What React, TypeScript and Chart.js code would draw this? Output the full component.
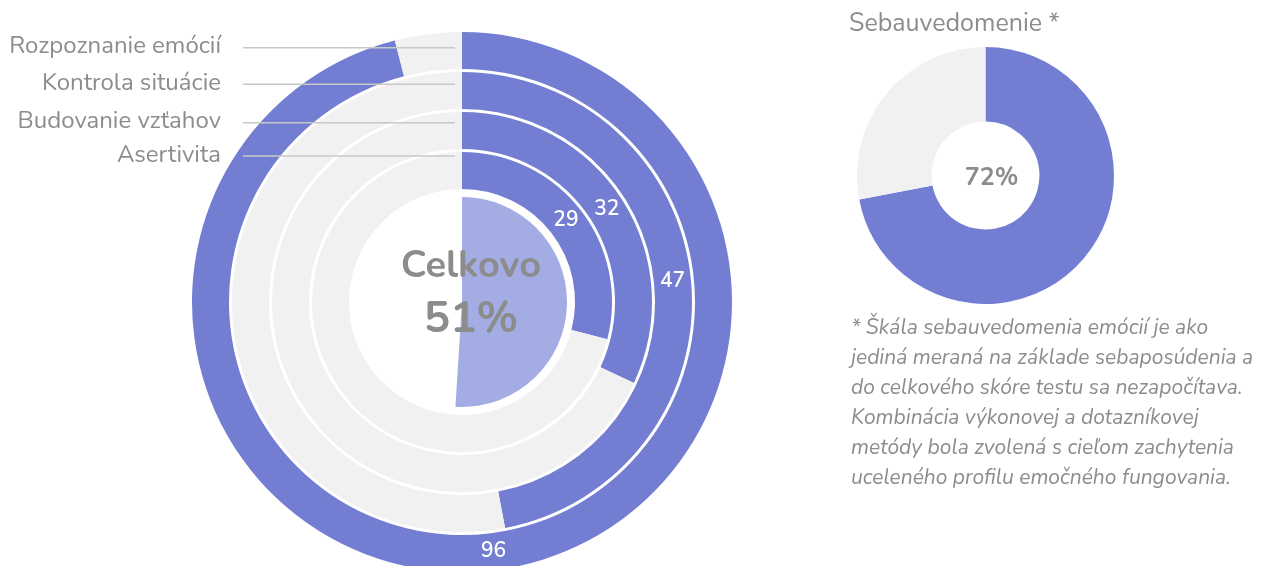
import React, { useEffect, useRef } from 'react';
import { Chart, registerables } from 'chart.js';

Chart.register(...registerables);

// ---- data ----
const ringLabels = ['Rozpoznanie emócií', 'Kontrola situácie', 'Budovanie vzťahov', 'Asertivita'];
const ringValues = [96, 47, 32, 29];
const overallLabel = 'Celkovo';
const overallValue = 51;
const selfTitle = 'Sebauvedomenie *';
const selfValue = 72;
const footnoteLines = [
  '* Škála sebauvedomenia emócií je ako',
  'jediná meraná na základe sebaposúdenia a',
  'do celkového skóre testu sa nezapočítava.',
  'Kombinácia výkonovej a dotazníkovej',
  'metódy bola zvolená s cieľom zachytenia',
  'uceleného profilu emočného fungovania.',
];

// ---- styles ----
const BLUE = '#737ed3';
const LIGHT = '#a4ace4';
const GREY = '#f1f1f1';
const TEXT = '#8c8c8c';
const FONT = 'Nunito, Lato, sans-serif';
const labelLineY = [47.7, 84.3, 122.7, 156];

function LeftChart() {
  const ref = useRef<HTMLCanvasElement | null>(null);
  useEffect(() => {
    if (!ref.current) return;
    const datasets: any[] = [];
    ringValues.forEach((v, i) => {
      datasets.push({
        data: [v, 100 - v],
        backgroundColor: [BLUE, GREY],
        borderWidth: 0,
        weight: 37,
        _ring: true,
      });
      datasets.push({
        data: [1],
        backgroundColor: ['rgba(0,0,0,0)'],
        borderWidth: 0,
        weight: i < ringValues.length - 1 ? 3 : 8,
      });
    });
    datasets.push({
      data: [overallValue, 100 - overallValue],
      backgroundColor: [LIGHT, 'rgba(0,0,0,0)'],
      borderWidth: 0,
      weight: 105,
    });

    const textPlugin = {
      id: 'leftText',
      afterDraw(chart: any) {
        const ctx = chart.ctx;
        ctx.save();
        // ring value labels
        ctx.fillStyle = '#ffffff';
        ctx.font = `600 21px ${FONT}`;
        ctx.textAlign = 'center';
        ctx.textBaseline = 'middle';
        chart.data.datasets.forEach((ds: any, di: number) => {
          if (!ds._ring) return;
          const arc = chart.getDatasetMeta(di).data[0];
          const p = arc.tooltipPosition();
          ctx.fillText(String(ds.data[0]), p.x, p.y);
        });
        // center texts
        const cx = (chart.chartArea.left + chart.chartArea.right) / 2;
        const cy = (chart.chartArea.top + chart.chartArea.bottom) / 2;
        ctx.fillStyle = TEXT;
        ctx.textBaseline = 'alphabetic';
        ctx.font = `bold 38px ${FONT}`;
        ctx.fillText(overallLabel, cx + 9, cy - 25.5);
        ctx.font = `bold 44px ${FONT}`;
        ctx.fillText(overallValue + '%', cx + 9, cy + 30);
        // left labels with leader lines
        ctx.font = `24px ${FONT}`;
        ctx.textAlign = 'right';
        ctx.textBaseline = 'middle';
        ctx.strokeStyle = '#c8c8c8';
        ctx.lineWidth = 1.5;
        ringLabels.forEach((lab, i) => {
          const y = labelLineY[i];
          ctx.fillStyle = TEXT;
          ctx.fillText(lab, 221, y);
          ctx.beginPath();
          ctx.moveTo(243, y);
          ctx.lineTo(cx - 7, y);
          ctx.stroke();
        });
        ctx.restore();
      },
    };

    const chart = new Chart(ref.current, {
      type: 'doughnut',
      data: { labels: ['value', 'rest'], datasets },
      options: {
        animation: false,
        responsive: false,
        devicePixelRatio: 1,
        cutout: 0,
        layout: { padding: { top: 32 } },
        plugins: { legend: { display: false }, tooltip: { enabled: false } },
        events: [],
      } as any,
      plugins: [textPlugin],
    });
    return () => chart.destroy();
  }, []);
  return (
    <canvas
      ref={ref}
      width={924}
      height={572}
      style={{ position: 'absolute', left: 0, top: 0, width: 924, height: 572 }}
    />
  );
}

function RightChart() {
  const ref = useRef<HTMLCanvasElement | null>(null);
  useEffect(() => {
    if (!ref.current) return;
    const centerPlugin = {
      id: 'rightText',
      afterDraw(chart: any) {
        const ctx = chart.ctx;
        const cx = (chart.chartArea.left + chart.chartArea.right) / 2;
        const cy = (chart.chartArea.top + chart.chartArea.bottom) / 2;
        ctx.save();
        ctx.fillStyle = TEXT;
        ctx.font = `bold 25px ${FONT}`;
        ctx.textAlign = 'center';
        ctx.textBaseline = 'alphabetic';
        ctx.fillText(selfValue + '%', cx + 6, cy + 9.5);
        ctx.restore();
      },
    };
    const chart = new Chart(ref.current, {
      type: 'doughnut',
      data: {
        labels: ['value', 'rest'],
        datasets: [
          {
            data: [selfValue, 100 - selfValue],
            backgroundColor: [BLUE, GREY],
            borderWidth: 0,
          },
        ],
      },
      options: {
        animation: false,
        responsive: false,
        devicePixelRatio: 1,
        cutout: '42%',
        plugins: { legend: { display: false }, tooltip: { enabled: false } },
        events: [],
      } as any,
      plugins: [centerPlugin],
    });
    return () => chart.destroy();
  }, []);
  return (
    <canvas
      ref={ref}
      width={257}
      height={257}
      style={{ position: 'absolute', left: 857, top: 47, width: 257, height: 257 }}
    />
  );
}

export default function App() {
  return (
    <div
      style={{
        position: 'absolute',
        left: 0,
        top: 0,
        width: 1272,
        height: 566,
        overflow: 'hidden',
        background: '#ffffff',
        fontFamily: FONT,
      }}
    >
      <LeftChart />
      <RightChart />
      <div
        style={{
          position: 'absolute',
          left: 849,
          top: 11,
          fontSize: 25,
          lineHeight: '25px',
          color: TEXT,
          whiteSpace: 'nowrap',
        }}
      >
        {selfTitle}
      </div>
      <div
        style={{
          position: 'absolute',
          left: 851,
          top: 312,
          fontSize: 21,
          lineHeight: '30px',
          fontStyle: 'italic',
          color: TEXT,
          whiteSpace: 'nowrap',
        }}
      >
        {footnoteLines.map((l, i) => (
          <div key={i}>{l}</div>
        ))}
      </div>
    </div>
  );
}
